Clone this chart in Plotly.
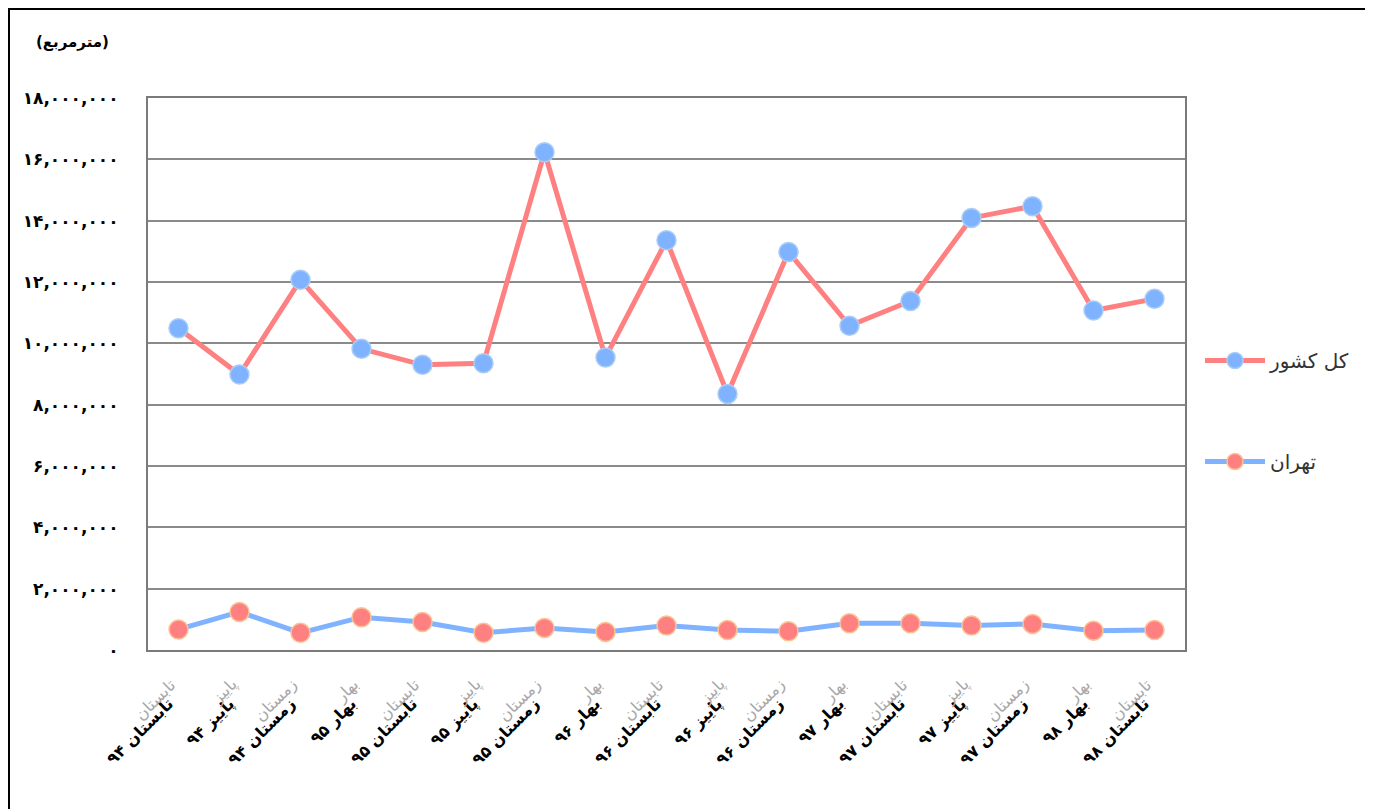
import plotly.graph_objects as go

# ---- data ----
categories = ["تابستان ۹۴", "پاییز ۹۴", "زمستان ۹۴", "بهار ۹۵", "تابستان ۹۵", "پاییز ۹۵",
              "زمستان ۹۵", "بهار ۹۶", "تابستان ۹۶", "پاییز ۹۶", "زمستان ۹۶", "بهار ۹۷",
              "تابستان ۹۷", "پاییز ۹۷", "زمستان ۹۷", "بهار ۹۸", "تابستان ۹۸"]
country_values = [10490000, 8980000, 12070000, 9820000, 9300000, 9350000, 16230000, 9540000,
                  13360000, 8350000, 12980000, 10570000, 11380000, 14090000, 14470000,
                  11070000, 11450000]
tehran_values = [670000, 1240000, 560000, 1070000, 910000, 560000, 720000, 590000,
                 800000, 650000, 610000, 870000, 870000, 800000, 850000, 630000, 650000]
series_names = ["کل کشور", "تهران"]
y_tick_values = [0, 2000000, 4000000, 6000000, 8000000, 10000000, 12000000, 14000000, 16000000, 18000000]
y_tick_labels = ["۰", "۲,۰۰۰,۰۰۰", "۴,۰۰۰,۰۰۰", "۶,۰۰۰,۰۰۰", "۸,۰۰۰,۰۰۰", "۱۰,۰۰۰,۰۰۰",
                 "۱۲,۰۰۰,۰۰۰", "۱۴,۰۰۰,۰۰۰", "۱۶,۰۰۰,۰۰۰", "۱۸,۰۰۰,۰۰۰"]
unit_label = "(مترمربع)"

RED = "rgb(255,128,128)"
BLUE = "rgb(128,179,255)"
FONT = "DejaVu Sans"

fig = go.Figure()
fig.add_trace(go.Scatter(
    x=categories, y=country_values, name=series_names[0], mode="lines+markers",
    line=dict(color=RED, width=5),
    marker=dict(color=BLUE, size=19, line=dict(color="rgb(170,205,245)", width=1.5)),
    legendgroup="a",
))
fig.add_trace(go.Scatter(
    x=categories, y=tehran_values, name=series_names[1], mode="lines+markers",
    line=dict(color=BLUE, width=5),
    marker=dict(color=RED, size=19, line=dict(color="rgb(250,195,150)", width=1.5)),
    legendgroup="b",
))

# page body adds an 8px margin; work in reference pixel coordinates and offset
OFF = 8
W, H = 1362, 809 - OFF
L, R, T, B = 148 - OFF, 1185 - OFF, 98 - OFF, 650 - OFF
pw, ph = R - L, B - T

def px(x):
    return (x - OFF - L) / pw

def py(y):
    return (B - (y - OFF)) / ph

shapes = [dict(type="rect", xref="paper", yref="paper",
               x0=px(9), x1=px(1366), y0=py(9), y1=py(830),
               line=dict(color="black", width=2), layer="below")]

annotations = [dict(text="<b>" + unit_label + "</b>", xref="paper", yref="paper",
                    x=px(72), y=py(42), xanchor="center", yanchor="middle", showarrow=False,
                    font=dict(family=FONT, size=15, color="black"))]

# ghost first-word labels (light gray duplicates seen in reference)
for i, c in enumerate(categories):
    word = c.split(" ")[0]
    annotations.append(dict(text=word, x=i, xref="x", yref="paper", y=py(672),
                            xanchor="right", yanchor="top", xshift=4, showarrow=False,
                            textangle=-45, font=dict(family=FONT, size=16, color="#a8a8a8")))

fig.update_layout(
    width=W, height=H,
    margin=dict(l=L, r=W - R, t=T, b=H - B, pad=0),
    paper_bgcolor="white", plot_bgcolor="white",
    showlegend=True,
    legend=dict(x=px(1200), y=py(341), xanchor="left", yanchor="top",
                font=dict(family=FONT, size=20, color="#333333"),
                tracegroupgap=72, bgcolor="rgba(0,0,0,0)", itemwidth=60),
    shapes=shapes, annotations=annotations,
)
fig.update_xaxes(
    type="category", range=[-0.5, len(categories) - 0.5],
    showgrid=False, showline=True, mirror=True, linecolor="#7a7a7a", linewidth=2,
    tickangle=-45, ticks="", ticklabelstandoff=36, ticklabelshift=-10,
    tickfont=dict(family=FONT, size=16, color="black", weight="bold"),
)
fig.update_yaxes(
    range=[0, 18000000], tickvals=y_tick_values, ticktext=y_tick_labels,
    showgrid=True, gridcolor="#8a8a8a", gridwidth=1.5,
    showline=True, mirror=True, linecolor="#7a7a7a", linewidth=2, zeroline=False,
    ticks="", ticklabelstandoff=24,
    tickfont=dict(family=FONT, size=17, color="black", weight="bold"),
)

fig.write_html("out.html")
